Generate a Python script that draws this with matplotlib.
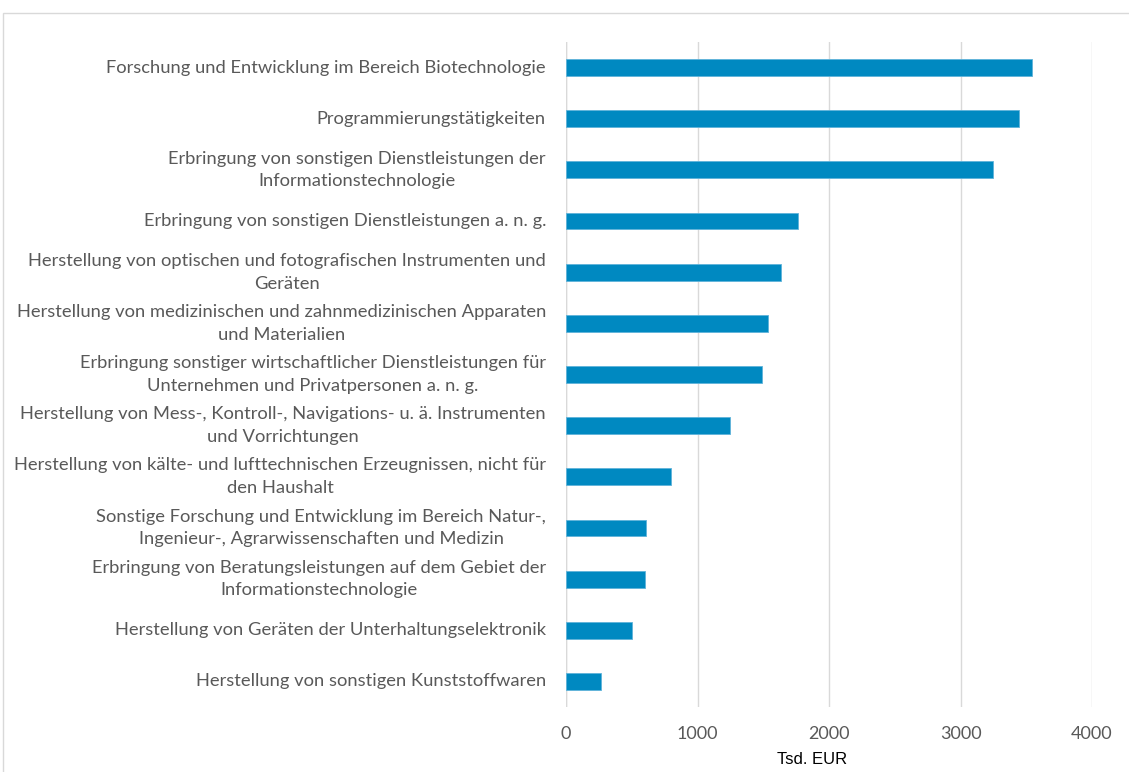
import matplotlib
matplotlib.use("Agg")
import matplotlib.pyplot as plt
import matplotlib.transforms as mtransforms
from matplotlib.patches import Rectangle

categories = [
    "Forschung und Entwicklung im Bereich Biotechnologie",
    "Programmierungstätigkeiten",
    "Erbringung von sonstigen Dienstleistungen der\nInformationstechnologie",
    "Erbringung von sonstigen Dienstleistungen a. n. g.",
    "Herstellung von optischen und fotografischen Instrumenten und\nGeräten",
    "Herstellung von medizinischen und zahnmedizinischen Apparaten\nund Materialien",
    "Erbringung sonstiger wirtschaftlicher Dienstleistungen für\nUnternehmen und Privatpersonen a. n. g.",
    "Herstellung von Mess-, Kontroll-, Navigations- u. ä. Instrumenten\nund Vorrichtungen",
    "Herstellung von kälte- und lufttechnischen Erzeugnissen, nicht für\nden Haushalt",
    "Sonstige Forschung und Entwicklung im Bereich Natur-,\nIngenieur-, Agrarwissenschaften und Medizin",
    "Erbringung von Beratungsleistungen auf dem Gebiet der\nInformationstechnologie",
    "Herstellung von Geräten der Unterhaltungselektronik",
    "Herstellung von sonstigen Kunststoffwaren",
]
values = [3547, 3444, 3244, 1766, 1632, 1535, 1487, 1250, 798, 605, 602, 501, 264]
xticks = [0, 1000, 2000, 3000, 4000]
xlabel = "Tsd. EUR"

W, H = 1129, 772
fig = plt.figure(figsize=(W / 100, H / 100), dpi=100)
fig.patch.set_facecolor("white")

# chart frame
fig.patches.append(Rectangle((3 / W, -0.01), 1.2, 1 - 13 / H + 0.01, transform=fig.transFigure,
                             fill=False, edgecolor="#D9D9D9", linewidth=1.0))

ax = fig.add_axes([566 / W, 1 - 707 / H, (1092 - 566) / W, (707 - 42) / H])
n = len(categories)
ypos = list(range(n))
ax.barh(ypos, values, height=0.33, color="#0089C1", edgecolor="#5FB3DA", linewidth=0.6, zorder=3)
ax.set_ylim(n - 0.5, -0.5)
ax.set_xlim(0, 4000)
ax.set_xticks(xticks)
ax.set_xticklabels([str(t) for t in xticks], fontfamily="Lato", fontsize=13, color="#595959")
ax.set_yticks(ypos)
ax.set_yticklabels([])
trans = mtransforms.offset_copy(ax.get_yaxis_transform(), fig=fig, x=-20, y=0, units="dots")
for y, lab in zip(ypos, categories):
    ax.text(0, y, lab, transform=trans, ha="right", va="center", multialignment="center",
            linespacing=1.52, fontfamily="Lato", fontsize=13.2, color="#595959", clip_on=False)
ax.tick_params(axis="both", length=0)
ax.tick_params(axis="x", pad=14)
ax.grid(axis="x", color="#D9D9D9", linewidth=1.0, zorder=0)
for s in ax.spines.values():
    s.set_visible(False)
ax.axvline(0, color="#D9D9D9", linewidth=1.0, zorder=1)

fig.text(812 / W, 1 - 760 / H, xlabel, ha="center", va="center", fontfamily="Liberation Sans",
         fontsize=12, color="black")

fig.savefig("out.png", dpi=100)
